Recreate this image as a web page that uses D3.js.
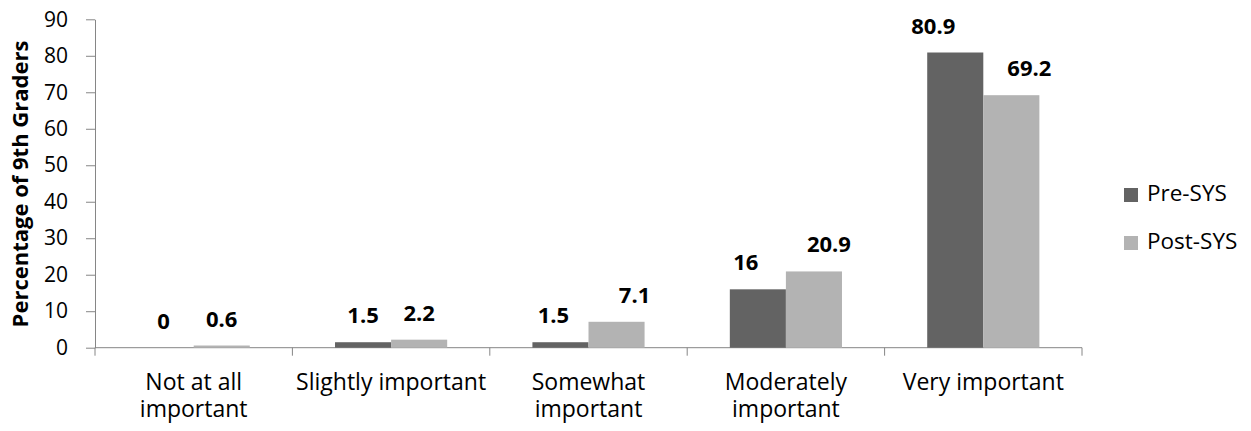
<!DOCTYPE html>
<html>
<head>
<meta charset="utf-8">
<script src="https://cdn.jsdelivr.net/npm/d3@7"></script>
<style>
  body { margin: 0; background: #fff; }
  text { font-family: "Open Sans", sans-serif; fill: #000; }
</style>
</head>
<body>
<div id="chart"></div>
<script>
// data
var categories = ["Not at all important", "Slightly important", "Somewhat important", "Moderately important", "Very important"];
var categoryLines = [["Not at all", "important"], ["Slightly important"], ["Somewhat", "important"], ["Moderately", "important"], ["Very important"]];
var series = ["Pre-SYS", "Post-SYS"];
var preValues = [0, 1.5, 1.5, 16, 80.9];
var postValues = [0.6, 2.2, 7.1, 20.9, 69.2];
var yTicks = [0, 10, 20, 30, 40, 50, 60, 70, 80, 90];

// label nudges (px) to copy where the value labels sit in the original
var preNudge = [-2, 0, -7, -12, -22];
var postNudge = [0, 0, 18, 15, 18];

var colors = {"Pre-SYS": "#636363", "Post-SYS": "#b3b3b3"};
var axisColor = "#868686";

var W = 1251, H = 431;
var plotLeft = 95, plotRight = 1082, plotTop = 19.3, plotBottom = 347.7;

var svg = d3.select("#chart").append("svg").attr("width", W).attr("height", H);

var y = d3.scaleLinear().domain([0, 90]).range([plotBottom, plotTop]);
var x0 = d3.scaleBand().domain(categories).range([plotLeft, plotRight]).padding(0);
var x1 = d3.scaleBand().domain(series).range([0, x0.bandwidth()]).paddingInner(0).paddingOuter(0.76);

// y axis
var yAxis = svg.append("g").attr("transform", "translate(" + plotLeft + ",0)")
  .call(d3.axisLeft(y).tickValues(yTicks).tickSize(9).tickPadding(18).tickSizeOuter(0));
yAxis.select(".domain").attr("stroke", axisColor);
yAxis.selectAll(".tick line").attr("stroke", axisColor);
yAxis.selectAll(".tick text").style("font-size", "21px").style("font-family", "'Open Sans', sans-serif").attr("fill", "#000");

// x axis line + boundary ticks
svg.append("line").attr("x1", plotLeft).attr("x2", plotRight).attr("y1", plotBottom).attr("y2", plotBottom).attr("stroke", axisColor);
var bounds = categories.map(function(c) { return x0(c); }).concat([plotRight]);
svg.selectAll("xtick").data(bounds).enter().append("line")
  .attr("x1", function(d) { return d; }).attr("x2", function(d) { return d; })
  .attr("y1", plotBottom).attr("y2", plotBottom + 8).attr("stroke", axisColor);

// category labels
categories.forEach(function(c, i) {
  var cx = x0(c) + x0.bandwidth() / 2;
  var t = svg.append("text").attr("text-anchor", "middle").style("font-size", "23px")
    .attr("x", cx).attr("y", 390);
  categoryLines[i].forEach(function(line, j) {
    t.append("tspan").attr("x", cx).attr("dy", j == 0 ? 0 : 27).text(line);
  });
});

// bars
var rows = categories.map(function(c, i) {
  return {cat: c, vals: [
    {s: "Pre-SYS", v: preValues[i], nudge: preNudge[i]},
    {s: "Post-SYS", v: postValues[i], nudge: postNudge[i]}
  ]};
});

var groups = svg.selectAll("g.cat").data(rows).enter().append("g").attr("class", "cat")
  .attr("transform", function(d) { return "translate(" + x0(d.cat) + ",0)"; });

groups.selectAll("rect").data(function(d) { return d.vals; }).enter().append("rect")
  .attr("x", function(d) { return x1(d.s); })
  .attr("width", x1.bandwidth())
  .attr("y", function(d) { return y(d.v); })
  .attr("height", function(d) { return plotBottom - y(d.v); })
  .attr("fill", function(d) { return colors[d.s]; });

groups.selectAll("text.val").data(function(d) { return d.vals; }).enter().append("text").attr("class", "val")
  .attr("text-anchor", "middle")
  .attr("x", function(d) { return x1(d.s) + x1.bandwidth() / 2 + d.nudge; })
  .attr("y", function(d) { return y(d.v) - 19; })
  .style("font-size", "22px").style("font-weight", "bold")
  .text(function(d) { return d.v; });

// y title
svg.append("text").attr("text-anchor", "middle").attr("transform", "translate(28,184) rotate(-90)")
  .style("font-size", "22px").style("font-weight", "bold").text("Percentage of 9th Graders");

// legend
var legend = svg.selectAll("g.leg").data(series).enter().append("g").attr("class", "leg")
  .attr("transform", function(d, i) { return "translate(1124," + (188 + i * 48) + ")"; });
legend.append("rect").attr("width", 14).attr("height", 14).attr("fill", function(d) { return colors[d]; });
legend.append("text").attr("x", 23).attr("y", 13).style("font-size", "22.5px").text(function(d) { return d; });
</script>
</body>
</html>
